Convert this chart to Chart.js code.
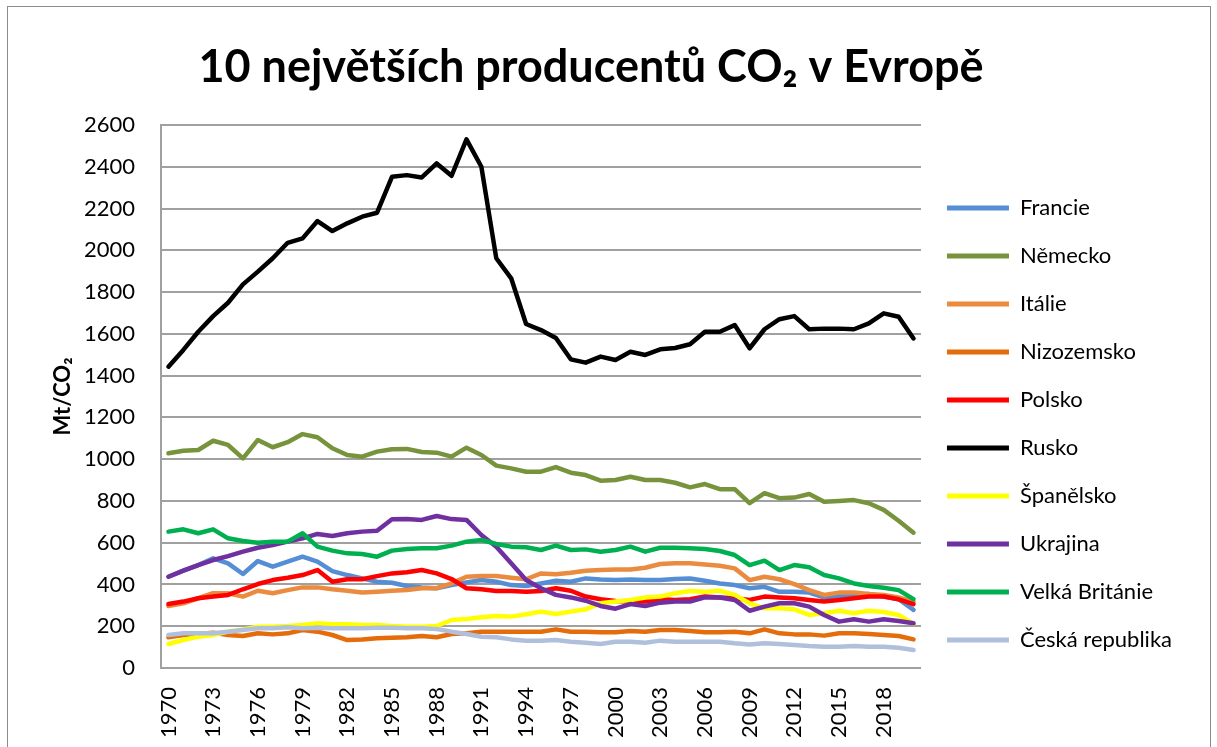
<!DOCTYPE html>
<html>
<head>
<meta charset="utf-8">
<script src="https://cdn.jsdelivr.net/npm/chart.js@4.4.1/dist/chart.umd.min.js"></script>
<style>
  html, body { margin: 0; padding: 0; background: #fff; }
  #wrap { position: relative; width: 1217px; height: 747px; overflow: hidden; }
  #frame { position: absolute; left: 7px; top: 6px; width: 1202px; height: 760px;
           border: 1.5px solid #8c8c8c; pointer-events: none; }
  canvas { position: absolute; left: 0; top: 0; }
</style>
</head>
<body>
<div id="wrap">
  <canvas id="myChart" width="1217" height="747"></canvas>
  <div id="frame"></div>
</div>
<script>
var years = [1970,1971,1972,1973,1974,1975,1976,1977,1978,1979,
             1980,1981,1982,1983,1984,1985,1986,1987,1988,1989,
             1990,1991,1992,1993,1994,1995,1996,1997,1998,1999,
             2000,2001,2002,2003,2004,2005,2006,2007,2008,2009,
             2010,2011,2012,2013,2014,2015,2016,2017,2018,2019,2020];

var francie = [437,466,493,525,501,450,512,485,509,533,
               509,464,445,429,413,408,393,386,382,397,
               410,421,413,397,393,405,418,413,429,424,
               421,424,421,421,426,429,418,405,397,382,
               389,365,365,361,338,345,350,354,342,329,278];
var nemecko = [1028,1040,1044,1088,1068,1004,1092,1057,1081,1120,
               1105,1052,1020,1012,1036,1047,1049,1034,1031,1012,
               1055,1020,969,956,940,940,962,935,924,897,
               900,916,900,900,887,865,881,856,856,789,
               837,813,816,833,796,800,804,789,757,705,648];
var italie = [297,310,334,358,358,342,370,358,373,386,
              386,377,370,361,365,370,373,382,382,405,
              437,440,440,432,425,453,449,456,466,469,
              472,472,480,498,501,501,496,490,477,421,
              437,425,402,373,350,361,361,354,350,338,318];
var nizozemsko = [147,158,163,169,158,153,166,161,166,182,
                  174,158,134,137,142,145,147,153,147,163,
                  166,174,174,174,174,174,185,174,174,171,
                  171,177,174,182,182,177,171,171,174,166,
                  185,166,161,161,155,166,166,163,158,153,137];
var polsko = [306,318,334,342,350,377,402,421,432,445,
              469,413,425,425,440,453,458,469,453,426,
              382,377,369,369,365,369,382,370,342,329,
              321,318,318,329,326,329,342,338,334,326,
              342,338,334,326,318,326,334,342,342,329,306];
var rusko = [1443,1523,1610,1685,1749,1837,1898,1962,2036,2057,
             2140,2092,2129,2161,2180,2352,2360,2349,2416,2357,
             2531,2400,1962,1866,1647,1618,1580,1478,1462,1491,
             1475,1514,1499,1526,1532,1550,1610,1610,1642,1531,
             1622,1670,1685,1622,1625,1625,1622,1650,1698,1682,1578];
var spanelsko = [115,134,150,158,174,185,198,198,201,206,
                 214,209,209,206,206,201,198,198,201,230,
                 235,243,249,246,257,270,259,270,281,310,
                 318,326,338,342,358,369,365,370,350,310,
                 286,286,281,254,262,274,262,274,268,254,211];
var ukrajina = [437,466,493,517,536,557,576,589,605,621,
                642,632,645,653,657,712,713,709,728,713,
                709,637,581,501,421,382,350,338,322,297,
                284,306,297,313,318,318,338,338,326,274,
                294,310,310,294,254,222,233,222,233,225,214];
var britanie = [653,664,645,664,621,608,600,605,605,645,
                581,562,549,546,533,562,570,573,573,586,
                605,613,594,581,578,565,586,565,568,557,
                565,581,557,576,576,573,570,560,541,493,
                514,469,493,482,445,429,405,393,384,373,330];
var cesko = [158,166,166,166,174,182,190,190,195,190,
             193,190,190,190,193,193,190,190,187,174,
             163,150,147,137,131,131,134,126,121,115,
             126,126,121,131,126,126,126,126,118,113,
             118,115,110,105,102,102,105,102,102,97,86];

var seriesNames = ['Francie','Německo','Itálie','Nizozemsko','Polsko','Rusko',
                   'Španělsko','Ukrajina','Velká Británie','Česká republika'];
var seriesData = [francie, nemecko, italie, nizozemsko, polsko, rusko,
                  spanelsko, ukrajina, britanie, cesko];
var seriesColors = ['#558ed5','#77933c','#ea8b3f','#e46c0a','#ff0000','#000000',
                    '#ffff00','#7030a0','#00b050','#b0c0dc'];

var FONT = 'Lato, "Open Sans", sans-serif';
var gridColor = '#a0a0a0';

var datasets = seriesNames.map(function(name, i) {
  return {
    label: name,
    data: seriesData[i],
    borderColor: seriesColors[i],
    backgroundColor: seriesColors[i],
    borderWidth: 4.5,
    pointRadius: 0,
    tension: 0,
    borderJoinStyle: 'round',
    borderCapStyle: 'round',
    order: seriesNames.length - 1 - i
  };
});

var ctx = document.getElementById('myChart').getContext('2d');

new Chart(ctx, {
  type: 'line',
  data: {
    labels: years,
    datasets: datasets
  },
  options: {
    responsive: false,
    animation: false,
    devicePixelRatio: 1,
    layout: { padding: { left: 0, right: 35, top: 0, bottom: 0 } },
    plugins: {
      tooltip: { enabled: false },
      title: {
        display: true,
        text: '10 největších producentů CO₂ v Evropě',
        color: '#000',
        font: { family: FONT, size: 45, weight: 'bold', lineHeight: 1.2 },
        padding: { top: 40, bottom: 31 }
      },
      legend: {
        display: true,
        position: 'right',
        align: 'center',
        fullSize: true,
        reverse: true,
        title: {
          display: true,
          text: ' ',
          font: { family: FONT, size: 10, lineHeight: 1 },
          padding: { top: 0, bottom: 91 }
        },
        labels: {
          color: '#000',
          font: { family: FONT, size: 22 },
          boxWidth: 62,
          boxHeight: 5,
          padding: 26,
          generateLabels: function(chart) {
            var items = Chart.defaults.plugins.legend.labels.generateLabels(chart);
            items.forEach(function(it) {
              it.lineWidth = 0;
              it.fillStyle = it.strokeStyle;
            });
            return items;
          }
        }
      }
    },
    scales: {
      x: {
        offset: true,
        grid: { display: false, drawTicks: false },
        border: { display: true, color: gridColor, width: 2 },
        ticks: {
          autoSkip: false,
          minRotation: 90,
          maxRotation: 90,
          padding: 19,
          color: '#000',
          font: { family: FONT, size: 22 },
          callback: function(value, index) {
            return index % 3 === 0 ? this.getLabelForValue(value) : '';
          }
        },
        afterFit: function(scale) { scale.height = 79; }
      },
      y: {
        min: 0,
        max: 2600,
        ticks: {
          stepSize: 200,
          padding: 26,
          color: '#000',
          font: { family: FONT, size: 22 },
          callback: function(value) { return String(value); }
        },
        grid: { color: gridColor, lineWidth: 2, drawTicks: false },
        border: { display: true, color: gridColor, width: 2 },
        title: {
          display: true,
          text: 'Mt/CO₂',
          color: '#000',
          font: { family: FONT, size: 22, weight: 'bold', lineHeight: 1.2 },
          padding: { top: 50, bottom: 0 }
        },
        afterFit: function(scale) { scale.width = 161; }
      }
    }
  }
});
</script>
</body>
</html>
